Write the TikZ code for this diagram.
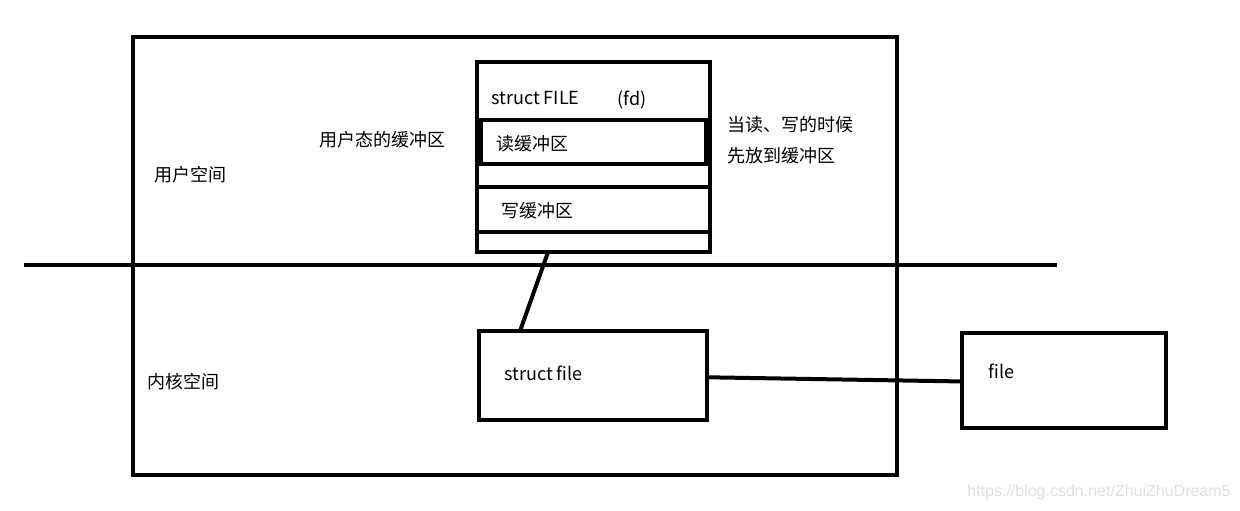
\documentclass[tikz,border=0pt]{standalone}
\usepackage{fontspec}
\setmainfont{Noto Sans CJK SC}
\newfontfamily\markfont{Liberation Sans}
\usepackage{tikz}
\usetikzlibrary{positioning, calc}

\begin{document}
\begin{tikzpicture}[
    x=0.5pt, y=-0.5pt,
    box/.style={rectangle, draw, line width=2pt, inner sep=0pt, outer sep=0pt},
    lbl/.style={inner sep=0pt, anchor=west, font=\fontsize{9pt}{11pt}\selectfont},
    link/.style={line width=2pt},
]

\useasboundingbox (0,0) rectangle (1240,510);

\node[box, minimum width=382pt, minimum height=219pt] (space) at (515, 256) {};

\draw[link] (24, 265) coordinate (lineL) -- (1057, 265) coordinate (lineR);

\node[box, fill=white, minimum width=116.5pt, minimum height=29pt] (head) at (593.5, 91) {};
\node[box, fill=white, minimum width=116.5pt, minimum height=22pt] (rdrow) at (593.5, 142) {};
\node[box, minimum width=112.5pt, minimum height=22pt] (rdbuf) at (593.5, 142) {};
\node[box, fill=white, minimum width=116.5pt, minimum height=11.5pt] (gap1) at (593.5, 175.5) {};
\node[box, fill=white, minimum width=116.5pt, minimum height=22.5pt] (wrbuf) at (593.5, 209.5) {};
\node[box, fill=white, minimum width=116.5pt, minimum height=10pt] (gap2) at (593.5, 242) {};

\node[lbl] (FILEtxt) at (491, 98) {struct FILE};
\node[lbl] (fd) at (617, 100) {(fd)};
\node[lbl] (rdtxt) at (496, 144) {读缓冲区};
\node[lbl] (wrtxt) at (501, 211) {写缓冲区};

\node[box, minimum width=114pt, minimum height=44.5pt] (sfile) at (593, 375.5) {};
\node[lbl] (sfiletxt) at (504, 373) {struct file};

\node[box, minimum width=102pt, minimum height=47.5pt] (file) at (1064, 380.5) {};
\node[lbl] (filetxt) at (988, 371) {file};

\draw[link] ($(gap2.south west)!0.305!(gap2.south east)$) -- ($(sfile.north west)!0.18!(sfile.north east)$);
\draw[link] ($(sfile.north east)!0.52!(sfile.south east)$) -- ($(file.north west)!0.51!(file.south west)$);

\node[lbl] (ubuf) at (319, 140) {用户态的缓冲区};
\node[lbl] (note1) at (727, 125) {当读、写的时候};
\node[lbl] (note2) at (727, 156) {先放到缓冲区};
\node[lbl] (user) at (154, 175) {用户空间};
\node[lbl] (kernel) at (147, 382) {内核空间};

\node[lbl, anchor=east, text=black!12, font=\markfont\fontsize{8pt}{9pt}\selectfont] (mark) at (1231, 492) {https://blog.csdn.net/ZhuiZhuDream5};

\end{tikzpicture}
\end{document}
